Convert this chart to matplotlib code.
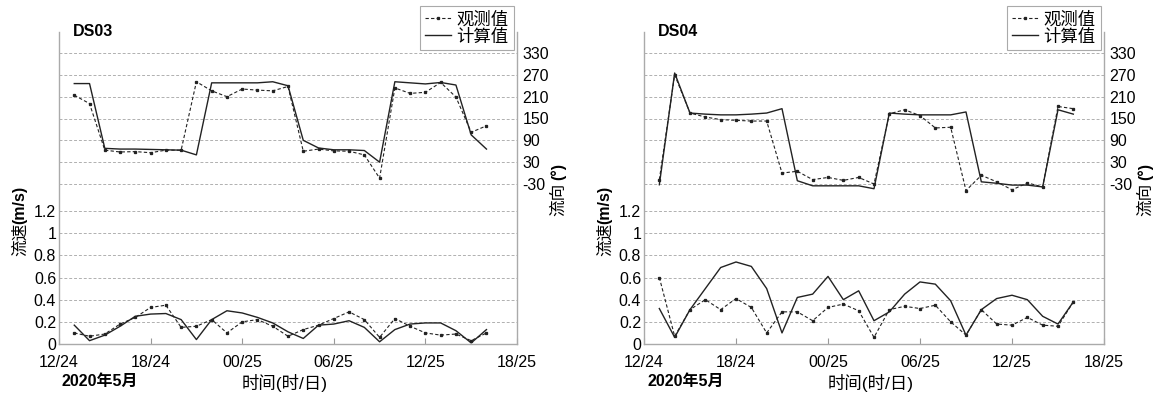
import matplotlib
matplotlib.use("Agg")
import matplotlib.pyplot as plt
from matplotlib.lines import Line2D

plt.rcParams['font.family'] = ['Liberation Sans', 'Noto Sans CJK SC', 'DejaVu Sans']

# hours after 2020-05-24 12:00
hours = list(range(1, 29))
xtick_hours = [0, 6, 12, 18, 24, 30]
xtick_labels = ["12/24", "18/24", "00/25", "06/25", "12/25", "18/25"]
speed_ticks = [0, 0.2, 0.4, 0.6, 0.8, 1.0, 1.2]
speed_tick_labels = ["0", "0.2", "0.4", "0.6", "0.8", "1", "1.2"]
dir_ticks = [-30, 30, 90, 150, 210, 270, 330]

stations = ["DS03", "DS04"]

ds03_dir_obs = [214, 191, 63, 58, 59, 56, 63, 63, 251, 226, 210, 231, 228, 226,
                238, 60, 66, 61, 60, 50, -14, 234, 219, 222, 249, 209, 112, 130]
ds03_dir_calc = [246, 246, 68, 66, 66, 65, 64, 63, 50, 248, 248, 248, 248, 251,
                 240, 90, 69, 64, 64, 62, 30, 251, 248, 245, 249, 242, 105, 66]
ds03_spd_obs = [0.10, 0.07, 0.09, 0.18, 0.24, 0.33, 0.35, 0.15, 0.16, 0.22, 0.10, 0.20,
                0.22, 0.16, 0.07, 0.13, 0.17, 0.23, 0.29, 0.22, 0.06, 0.23, 0.16, 0.10,
                0.08, 0.09, 0.03, 0.10]
ds03_spd_calc = [0.17, 0.03, 0.08, 0.16, 0.25, 0.27, 0.275, 0.22, 0.04, 0.22, 0.30, 0.28,
                 0.24, 0.19, 0.11, 0.05, 0.17, 0.18, 0.21, 0.15, 0.02, 0.13, 0.18, 0.19,
                 0.19, 0.12, 0.01, 0.13]

ds04_dir_obs = [-18, 270, 165, 154, 147, 145, 143, 143, 0, 5, -18, -12, -20, -12,
                -30, 163, 174, 158, 124, 126, -48, -6, -24, -46, -27, -38, 183, 177]
ds04_dir_calc = [-32, 275, 165, 162, 160, 160, 162, 165, 177, -21, -35, -35, -35, -35,
                 -43, 165, 162, 160, 160, 160, 168, -24, -28, -33, -33, -38, 174, 162]
ds04_spd_obs = [0.60, 0.07, 0.31, 0.40, 0.31, 0.41, 0.33, 0.10, 0.29, 0.29, 0.21, 0.33,
                0.36, 0.30, 0.06, 0.31, 0.34, 0.32, 0.35, 0.20, 0.08, 0.31, 0.18, 0.17,
                0.24, 0.17, 0.16, 0.38]
ds04_spd_calc = [0.32, 0.06, 0.31, 0.50, 0.69, 0.74, 0.70, 0.50, 0.10, 0.42, 0.45, 0.61,
                 0.40, 0.48, 0.21, 0.29, 0.45, 0.56, 0.54, 0.39, 0.08, 0.31, 0.41, 0.44,
                 0.40, 0.25, 0.18, 0.38]

data = {
    "DS03": (ds03_dir_obs, ds03_dir_calc, ds03_spd_obs, ds03_spd_calc),
    "DS04": (ds04_dir_obs, ds04_dir_calc, ds04_spd_obs, ds04_spd_calc),
}

W, H = 1157, 396
fig = plt.figure(figsize=(W / 100, H / 100), dpi=100)

def fx(px):
    return px / W

def fy(py):
    return 1 - py / H

panel_left = [59, 644]
panel_right = [517, 1104]
ax_top, ax_bot = 32, 344

grid_kw = dict(color="#b0b0b0", linestyle=(0, (3, 2)), linewidth=0.7)
obs_kw = dict(color="#222222", linestyle=(0, (3, 2)), linewidth=0.8, marker="s",
              markersize=1.4)
calc_kw = dict(color="#222222", linestyle="-", linewidth=1.0)
tick_fs = 11.5

for k, name in enumerate(stations):
    d_obs, d_calc, s_obs, s_calc = data[name]
    L, R = panel_left[k], panel_right[k]
    ax = fig.add_axes([fx(L), fy(ax_bot), fx(R - L), (ax_bot - ax_top) / H])
    ax2 = ax.twinx()

    # speed axis: 0 at y=344, 1.2 at y=211
    spx = (344 - 211) / 1.2
    ax.set_ylim(0, (ax_bot - ax_top) / spx)
    # direction axis: -30 at y=184, 330 at y=53
    dpx = (184 - 53) / 360
    ax2.set_ylim(-30 - (ax_bot - 184) / dpx, 330 + (53 - ax_top) / dpx)
    ax.set_xlim(0, 30)

    for v in speed_ticks[1:]:
        ax.axhline(v, zorder=0, **grid_kw)
    for v in dir_ticks:
        ax2.axhline(v, zorder=0, **grid_kw)

    ax.plot(hours, s_obs, **obs_kw)
    ax.plot(hours, s_calc, **calc_kw)
    ax2.plot(hours, d_obs, **obs_kw)
    ax2.plot(hours, d_calc, **calc_kw)

    ax.set_yticks(speed_ticks)
    ax.set_yticklabels(speed_tick_labels, fontsize=tick_fs)
    ax2.set_yticks(dir_ticks)
    ax2.set_yticklabels([str(v) for v in dir_ticks], fontsize=tick_fs)
    ax.set_xticks(xtick_hours)
    ax.set_xticklabels(xtick_labels, fontsize=tick_fs)
    ax.tick_params(axis="x", direction="in", length=4, color="#999999", pad=8)
    ax.tick_params(axis="y", length=0, pad=2)
    ax2.tick_params(axis="y", length=0, pad=4)

    for a in (ax, ax2):
        a.spines["top"].set_visible(False)
        for s in ("left", "right", "bottom"):
            a.spines[s].set_color("#aaaaaa")
            a.spines[s].set_linewidth(1.0)
    ax2.spines["bottom"].set_visible(False)
    ax.spines["right"].set_visible(False)
    ax2.spines["left"].set_visible(False)

    # station name
    fig.text(fx(L + 14), fy(31), name, fontsize=11.5, fontweight="bold",
             ha="left", va="center")
    # left y label
    fig.text(fx(L - 39), fy(239), "流速", fontsize=12, rotation=90,
             ha="center", va="center")
    fig.text(fx(L - 39), fy(205), "(m/s)", fontsize=11.5, rotation=90,
             ha="center", va="center", fontweight="bold")
    # right y label
    fig.text(fx(R + 41), fy(199), "流向", fontsize=12, rotation=90,
             ha="center", va="center")
    fig.text(fx(R + 41), fy(172), "(°)", fontsize=11.5, rotation=90,
             ha="center", va="center", fontweight="bold")
    # x label
    fig.text(fx((L + R) / 2 - 3), fy(383), "时间(时/日)", fontsize=12.5,
             ha="center", va="center")
    fig.text(fx(L + 3), fy(381), "2020年5月", fontsize=11.5, fontweight="bold",
             ha="left", va="center")

    handles = [Line2D([], [], **obs_kw), Line2D([], [], **calc_kw)]
    leg = fig.legend(handles, ["观测值", "计算值"], loc="upper right",
                     bbox_to_anchor=(fx(R - 3), fy(6)), fontsize=12.5,
                     frameon=True, fancybox=False, framealpha=1,
                     edgecolor="#aaaaaa", handlelength=1.5, handletextpad=0.3,
                     labelspacing=0.05, borderpad=0.3, borderaxespad=0)
    leg.get_frame().set_linewidth(0.8)

fig.savefig("out.png", dpi=100)
